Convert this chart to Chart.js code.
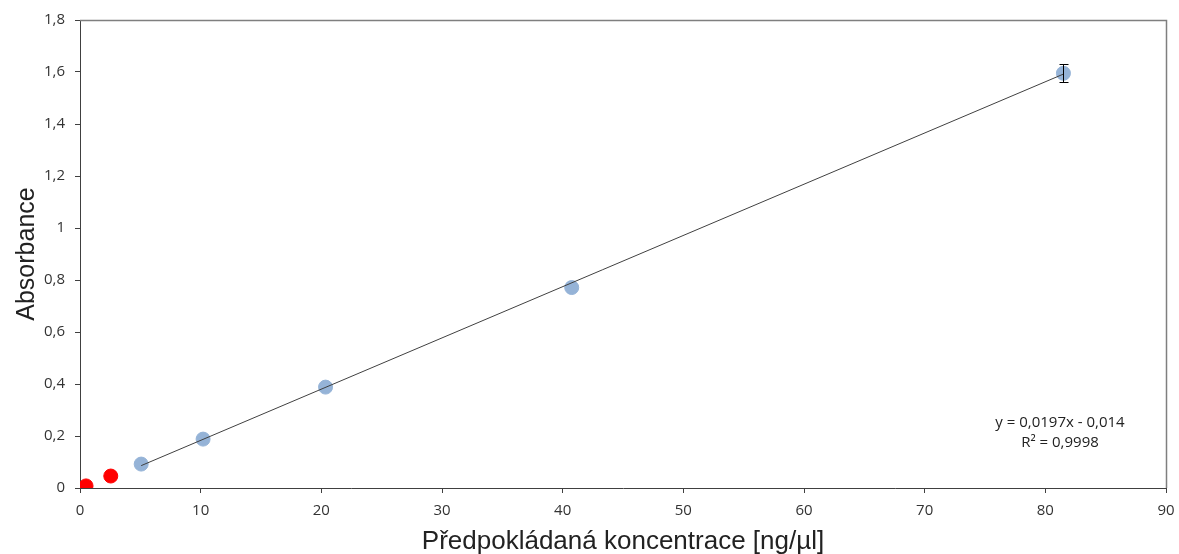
<!DOCTYPE html>
<html>
<head>
<meta charset="utf-8">
<script src="https://cdn.jsdelivr.net/npm/chart.js@4.4.1/dist/chart.umd.min.js"></script>
<style>
  html, body { margin: 0; padding: 0; background: #fff; }
  #wrap { width: 1179px; height: 554px; position: relative; }
</style>
</head>
<body>
<div id="wrap"><canvas id="chart"></canvas></div>
<script>
// calibration points (blue)
const stdX = [5.07, 10.2, 20.35, 40.75, 81.5];
const stdY = [0.092, 0.188, 0.388, 0.771, 1.595];
const stdErr = [0, 0, 0, 0, 0.034];

// samples (red)
const sampleX = [0.5, 2.55];
const sampleY = [0.008, 0.046];

// trendline endpoints
const trendX = [5.07, 81.5];
const trendY = [0.086, 1.592];

const eqText = ["y = 0,0197x - 0,014", "R\u00b2 = 0,9998"];

const toPts = (xs, ys) => xs.map((x, i) => ({ x: x, y: ys[i] }));

const framePlugin = {
  id: "frame",
  beforeDatasetsDraw(chart) {
    const { ctx, chartArea: a } = chart;
    ctx.save();
    ctx.strokeStyle = "#7f7f7f";
    ctx.lineWidth = 1.5;
    ctx.beginPath();
    ctx.moveTo(Math.round(a.left), Math.round(a.top) + 0.5);
    ctx.lineTo(Math.round(a.right) + 0.5, Math.round(a.top) + 0.5);
    ctx.lineTo(Math.round(a.right) + 0.5, Math.round(a.bottom));
    ctx.stroke();
    ctx.restore();
  },
  afterDatasetsDraw(chart) {
    const { ctx, scales } = chart;
    ctx.save();
    // error bars
    ctx.strokeStyle = "#000";
    ctx.lineWidth = 1;
    stdX.forEach((x, i) => {
      if (!stdErr[i]) return;
      const px = Math.round(scales.x.getPixelForValue(x)) + 0.5;
      const y1 = Math.round(scales.y.getPixelForValue(stdY[i] + stdErr[i])) + 0.5;
      const y2 = Math.round(scales.y.getPixelForValue(stdY[i] - stdErr[i])) + 0.5;
      ctx.beginPath();
      ctx.moveTo(px, y1); ctx.lineTo(px, y2);
      ctx.moveTo(px - 4, y1); ctx.lineTo(px + 5, y1);
      ctx.moveTo(px - 4, y2); ctx.lineTo(px + 5, y2);
      ctx.stroke();
    });
    // equation
    ctx.fillStyle = "#222";
    ctx.font = "15px 'Open Sans'";
    ctx.textAlign = "center";
    ctx.textBaseline = "middle";
    ctx.fillText(eqText[0], 1060, 423);
    ctx.fillText(eqText[1], 1060, 443);
    ctx.restore();
  }
};

new Chart(document.getElementById("chart"), {
  type: "scatter",
  data: {
    datasets: [
      {
        type: "line",
        data: toPts(trendX, trendY),
        borderColor: "#404040",
        borderWidth: 1,
        pointRadius: 0,
        fill: false,
        order: 1
      },
      {
        data: toPts(stdX, stdY),
        backgroundColor: "#95b3d7",
        borderColor: "#95b3d7",
        pointRadius: 7,
        order: 2
      },
      {
        data: toPts(sampleX, sampleY),
        backgroundColor: "#ff0000",
        borderColor: "#ff0000",
        pointRadius: 7,
        order: 2
      }
    ]
  },
  options: {
    responsive: true,
    maintainAspectRatio: false,
    animation: false,
    layout: { padding: { left: 0, top: 20, right: 13, bottom: 0 } },
    plugins: { legend: { display: false }, tooltip: { enabled: false } },
    scales: {
      x: {
        type: "linear",
        min: 0, max: 90,
        ticks: { stepSize: 10, color: "#333", font: { family: "Open Sans", size: 15 }, padding: 9 },
        grid: { drawOnChartArea: false, drawTicks: true, tickLength: 5, color: "#404040" },
        border: { color: "#404040" },
        title: {
          display: true,
          text: "Předpokládaná koncentrace [ng/µl]",
          color: "#222",
          font: { family: "Liberation Sans", size: 26 },
          padding: { top: 5, bottom: -3 }
        },
        afterFit(s) { s.height = 66; s.paddingRight = 0; s.paddingLeft = 0; }
      },
      y: {
        min: 0, max: 1.8,
        ticks: {
          stepSize: 0.2,
          color: "#333",
          font: { family: "Open Sans", size: 15 },
          padding: 10,
          callback: v => String(Math.round(v * 10) / 10).replace(".", ",")
        },
        grid: { drawOnChartArea: false, drawTicks: true, tickLength: 5, color: "#404040" },
        border: { color: "#404040" },
        title: {
          display: true,
          text: "Absorbance",
          color: "#222",
          font: { family: "Liberation Sans", size: 25 },
          padding: { top: 12, bottom: 0 }
        },
        afterFit(s) { s.width = 80; }
      }
    }
  },
  plugins: [framePlugin]
});
</script>
</body>
</html>
